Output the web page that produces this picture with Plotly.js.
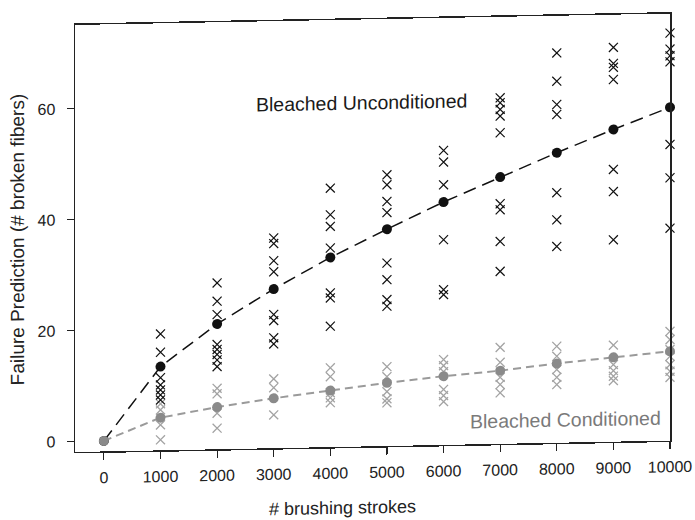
<!DOCTYPE html>
<html>
<head>
<meta charset="utf-8">
<script src="https://cdn.plot.ly/plotly-3.0.1.min.js"></script>
<style>
  html, body { margin: 0; padding: 0; background: #fff; overflow: hidden; width: 695px; height: 520px; }
  #chart { width: 695px; height: 530px; transform: skewY(-1.1deg); transform-origin: 75px 0; }
</style>
</head>
<body>
<div id="chart"></div>
<script>
// ---- data ----
const strokes = [0, 1000, 2000, 3000, 4000, 5000, 6000, 7000, 8000, 9000, 10000];
const xTickLabels = ['0','1000','2000','3000','4000','5000','6000','7000','8000','9000','10000'];
const yTicks = [0, 20, 40, 60];

const unconditionedMean = [0, 13.2, 20.7, 26.8, 32.3, 37.2, 41.9, 46.2, 50.4, 54.4, 58.2];
const conditionedMean   = [0, 4.0, 5.7, 7.1, 8.3, 9.5, 10.5, 11.3, 12.4, 13.3, 14.2];

const unconditionedSamples = [
  [],
  [19.1, 15.8, 11.2, 9.9, 9.0, 8.1, 7.2],
  [28.1, 24.8, 22.4, 17.0, 16.1, 15.2, 14.2, 13.0],
  [36.0, 35.0, 31.9, 29.9, 22.2, 21.1, 18.0, 16.9],
  [44.8, 40.0, 37.9, 34.0, 25.9, 25.0, 19.9],
  [47.0, 45.2, 42.2, 40.2, 31.1, 28.1, 24.5, 23.3],
  [51.2, 49.1, 45.0, 35.1, 26.1, 25.2],
  [60.5, 59.6, 58.4, 57.2, 54.2, 41.4, 40.3, 34.6, 29.2],
  [68.4, 63.3, 59.1, 57.3, 43.2, 38.3, 33.5],
  [69.2, 66.3, 65.6, 63.4, 47.2, 43.2, 34.5],
  [75.3, 71.6, 68.7, 67.5, 66.4, 51.5, 45.5, 36.4]
];
const conditionedSamples = [
  [],
  [6.5, 5.4, 2.7, 0.0],
  [9.1, 8.1, 4.6, 1.9],
  [10.6, 9.0, 4.1],
  [12.4, 10.8, 7.9, 7.0, 6.1],
  [12.4, 10.6, 7.9, 6.6, 5.9],
  [13.5, 12.4, 11.3, 8.1, 7.0, 5.9],
  [15.5, 12.8, 10.1, 8.8, 7.3],
  [15.5, 13.7, 11.3, 9.9, 8.6],
  [15.5, 12.0, 10.9, 9.9, 9.1],
  [17.8, 16.3, 14.5, 13.3, 11.8, 10.6, 9.5]
];

const seriesNames = ['Bleached Unconditioned', 'Bleached Conditioned'];
const xTitle = '# brushing strokes';
const yTitle = 'Failure Prediction (# broken fibers)';

// ---- build traces ----
function flatten(samples) {
  const xs = [], ys = [];
  samples.forEach((col, i) => col.forEach(v => { xs.push(strokes[i]); ys.push(v); }));
  return {xs, ys};
}
const unc = flatten(unconditionedSamples);
const con = flatten(conditionedSamples);

const black = '#111111';
const greyX = '#a3a3a3';
const greyDot = '#8a8a8a';

const traces = [
  { x: con.xs, y: con.ys, type: 'scatter', mode: 'markers', name: seriesNames[1] + ' samples',
    marker: { symbol: 'x-thin-open', size: 9, color: greyX, line: { color: greyX, width: 1.3 } }, cliponaxis: false },
  { x: unc.xs, y: unc.ys, type: 'scatter', mode: 'markers', name: seriesNames[0] + ' samples',
    marker: { symbol: 'x-thin-open', size: 9, color: black, line: { color: black, width: 1.2 } }, cliponaxis: false },
  { x: strokes, y: unconditionedMean, type: 'scatter', mode: 'lines+markers', name: seriesNames[0],
    line: { color: black, width: 1.5, dash: '13px,7px' },
    marker: { symbol: 'circle', size: 10, color: black }, cliponaxis: false },
  { x: strokes, y: conditionedMean, type: 'scatter', mode: 'lines+markers', name: seriesNames[1],
    line: { color: '#9a9a9a', width: 2, dash: '8px,5px' },
    marker: { symbol: 'circle', size: 10, color: greyDot }, cliponaxis: false }
];

const fontFam = '"Liberation Sans", Arial, sans-serif';

const layout = {
  width: 695, height: 530,
  margin: { l: 75, r: 25, t: 25, b: 78 },
  paper_bgcolor: '#ffffff', plot_bgcolor: '#ffffff',
  showlegend: false,
  font: { family: fontFam, color: '#222222', size: 16 },
  xaxis: {
    range: [-510, 10000],
    tickvals: strokes, ticktext: xTickLabels,
    showgrid: false, zeroline: false,
    showline: true, linecolor: '#222', linewidth: 1.5, mirror: true,
    ticks: 'outside', ticklen: 7, tickwidth: 1.2, tickcolor: '#222',
    ticklabelstandoff: 4,
    tickfont: { size: 16 },
    automargin: false
  },
  yaxis: {
    range: [-1.9, 75.1],
    tickvals: yTicks,
    showgrid: false, zeroline: false,
    showline: true, linecolor: '#222', linewidth: 1.5, mirror: true,
    ticks: 'outside', ticklen: 7, tickwidth: 1.2, tickcolor: '#222',
    ticklabelstandoff: 8,
    tickfont: { size: 16 },
    title: { text: yTitle, font: { size: 19 }, standoff: 8 },
    automargin: false
  },
  annotations: [
    { x: 0.449, y: -0.143, xref: 'paper', yref: 'paper', text: xTitle, showarrow: false,
      xanchor: 'center', yanchor: 'middle', font: { size: 18, color: '#222222' } },
    { x: 4550, y: 60.1, xref: 'x', yref: 'y', text: seriesNames[0], showarrow: false,
      font: { size: 19.5, color: '#1a1a1a' } },
    { x: 8160, y: 2.3, xref: 'x', yref: 'y', text: seriesNames[1], showarrow: false,
      font: { size: 19.5, color: '#7a7a7a' } }
  ]
};

Plotly.newPlot('chart', traces, layout, { displayModeBar: false, staticPlot: true });
</script>
</body>
</html>
